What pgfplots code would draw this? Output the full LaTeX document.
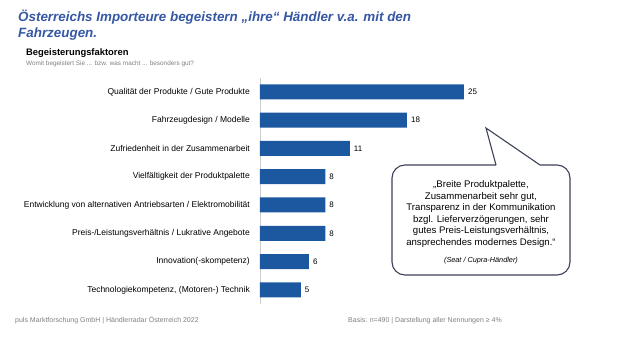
\documentclass[border=0pt]{standalone}
\usepackage{pgfplots}
\pgfplotsset{compat=1.18}
\usepackage{fontspec}
\setmainfont{Liberation Sans}
\definecolor{barblue}{HTML}{1C58A0}
\definecolor{titleblue}{HTML}{3557A4}
\definecolor{ftgray}{HTML}{7F7F7F}
\definecolor{boxline}{HTML}{3C4258}
\begin{document}
\begin{tikzpicture}[x=1pt,y=1pt]
\path[use as bounding box] (0,0) rectangle (630,-343);
\node[anchor=base west, font=\fontsize{13.4}{16}\selectfont\bfseries\itshape, text=titleblue, inner sep=0] at (18,-21) {Österreichs Importeure begeistern „ihre“ Händler v.a. mit den};
\node[anchor=base west, font=\fontsize{13.4}{16}\selectfont\bfseries\itshape, text=titleblue, inner sep=0] at (18,-37) {Fahrzeugen.};
\node[anchor=base west, font=\fontsize{9.4}{11}\selectfont\bfseries, inner sep=0] at (26,-55) {Begeisterungsfaktoren};
\node[anchor=base west, font=\fontsize{6.4}{7}\selectfont, text=ftgray, inner sep=0] at (26,-65) {Womit begeistert Sie ... bzw. was macht ... besonders gut?};
\begin{axis}[at={(260pt,-304pt)}, anchor=south west, scale only axis,
  width=244.8pt, height=226.4pt,
  xmin=0, xmax=30, ymin=-0.5, ymax=7.5, y dir=reverse,
  xbar, bar width=15pt,
  axis x line=none, axis y line*=left,
  y axis line style={draw=black!20, -},
  major tick length=0pt,
  ytick={0,...,7},
  yticklabels={Qualität der Produkte / Gute Produkte, Fahrzeugdesign / Modelle, Zufriedenheit in der Zusammenarbeit, Vielfältigkeit der Produktpalette, Entwicklung von alternativen Antriebsarten / Elektromobilität, Preis-/Leistungsverhältnis / Lukrative Angebote, Innovation(-skompetenz), {Technologiekompetenz, (Motoren-) Technik}},
  yticklabel style={font=\fontsize{8.5}{10}\selectfont, inner sep=0pt, xshift=-10pt},
  /pgf/number format/assume math mode=true,
  nodes near coords,
  nodes near coords style={font=\fontsize{8}{10}\selectfont, anchor=west, inner sep=0pt, xshift=4pt},
  clip=false]
\addplot[fill=barblue, draw=none] coordinates {(25,0) (18,1) (11,2) (8,3) (8,4) (8,5) (6,6) (5,7)};
\end{axis}
\draw[boxline, line width=1.1pt, fill=white] (496,-165) [sharp corners] -- (486,-128) -- (540,-165) [rounded corners=13pt] -- (570,-165) -- (570,-275) -- (392,-275) -- (392,-165) -- (496,-165);
\node[anchor=north, align=center, inner sep=0, font=\fontsize{9.6}{11.5}\selectfont] at (481,-180.5) {„Breite Produktpalette,\\Zusammenarbeit sehr gut,\\Transparenz in der Kommunikation\\bzgl. Lieferverzögerungen, sehr\\gutes Preis-Leistungsverhältnis,\\ansprechendes modernes Design.“};
\node[anchor=base, inner sep=0, font=\fontsize{7.3}{9}\selectfont\itshape] at (481,-262) {(Seat / Cupra-Händler)};
\node[anchor=base west, inner sep=0, font=\fontsize{7}{8}\selectfont, text=ftgray] at (15,-322) {puls Marktforschung GmbH | Händlerradar Österreich 2022};
\node[anchor=base west, inner sep=0, font=\fontsize{7}{8}\selectfont, text=ftgray] at (348,-322) {Basis: n=490 | Darstellung aller Nennungen ≥ 4\%};
\end{tikzpicture}
\end{document}
